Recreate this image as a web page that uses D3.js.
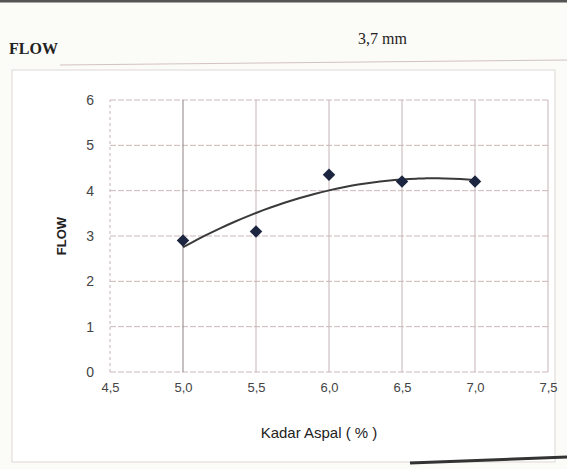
<!DOCTYPE html>
<html>
<head>
<meta charset="utf-8">
<script src="https://cdn.jsdelivr.net/npm/d3@7"></script>
<style>
  body { margin: 0; background: #fbfbf7; }
  svg { display: block; }
</style>
</head>
<body>
<div id="grafik"></div>
<script>
// data
const kadarAspal = [5.0, 5.5, 6.0, 6.5, 7.0];
const nilaiFlow = [2.9, 3.1, 4.35, 4.2, 4.2];
const tickX = [4.5, 5.0, 5.5, 6.0, 6.5, 7.0, 7.5];
const tickY = [0, 1, 2, 3, 4, 5, 6];

const width = 567, height = 469;
const margin = { left: 110, right: 19, top: 100, bottom: 97 };

const svg = d3.select("#grafik")
  .append("svg")
  .attr("width", width)
  .attr("height", height);

const x = d3.scaleLinear().domain([4.5, 7.5]).range([margin.left, width - margin.right]);
const y = d3.scaleLinear().domain([0, 6]).range([height - margin.bottom, margin.top]);

// header
svg.append("line")
  .attr("x1", 0).attr("x2", width).attr("y1", 1).attr("y2", 1)
  .attr("stroke", "#555").attr("stroke-width", 3);

svg.append("text")
  .attr("x", 9).attr("y", 54)
  .attr("font-family", "Liberation Serif, serif")
  .attr("font-weight", "bold")
  .attr("font-size", 16)
  .attr("fill", "#222")
  .text("FLOW");

svg.append("text")
  .attr("x", 358).attr("y", 44)
  .attr("font-family", "Liberation Serif, serif")
  .attr("font-size", 16)
  .attr("fill", "#222")
  .text("3,7 mm");

svg.append("line")
  .attr("x1", 60).attr("x2", width).attr("y1", 65).attr("y2", 60)
  .attr("stroke", "#d3c2c2").attr("stroke-width", 1);

// bingkai grafik
svg.append("rect")
  .attr("x", 12).attr("y", 70)
  .attr("width", 543).attr("height", 392)
  .attr("fill", "#fff")
  .attr("stroke", "#ddd7d7");

// grid horizontal
svg.append("g")
  .selectAll("line")
  .data(tickY)
  .enter()
  .append("line")
  .attr("x1", x(4.5))
  .attr("x2", x(7.5))
  .attr("y1", d => y(d))
  .attr("y2", d => y(d))
  .attr("stroke", "#cdb7b9")
  .attr("stroke-dasharray", "6,2")
  .attr("stroke-width", 1);

// grid vertikal
svg.append("g")
  .selectAll("line")
  .data(tickX)
  .enter()
  .append("line")
  .attr("x1", d => x(d))
  .attr("x2", d => x(d))
  .attr("y1", y(0))
  .attr("y2", y(6))
  .attr("stroke", d => d === 5.0 ? "#8d8283" : "#c4b3b5")
  .attr("stroke-dasharray", d => d === 4.5 ? "3,3" : null)
  .attr("stroke-width", 1);

// sumbu
const sumbuX = d3.axisBottom(x).tickValues(tickX).tickSize(0).tickPadding(11)
  .tickFormat(d => d3.format(".1f")(d).replace(".", ","));
svg.append("g")
  .attr("transform", `translate(0,${y(0)})`)
  .call(sumbuX)
  .call(g => g.select(".domain").remove())
  .selectAll("text")
  .attr("font-family", "Liberation Sans, Arial, sans-serif")
  .attr("font-size", 13)
  .attr("fill", "#444");

const sumbuY = d3.axisLeft(y).tickValues(tickY).tickSize(0).tickPadding(16)
  .tickFormat(d3.format("d"));
svg.append("g")
  .attr("transform", `translate(${x(4.5)},0)`)
  .call(sumbuY)
  .call(g => g.select(".domain").remove())
  .selectAll("text")
  .attr("font-family", "Liberation Sans, Arial, sans-serif")
  .attr("font-size", 14)
  .attr("fill", "#444");

svg.append("text")
  .attr("x", (x(4.5) + x(7.5)) / 2 - 10)
  .attr("y", 438)
  .attr("text-anchor", "middle")
  .attr("font-family", "Liberation Sans, Arial, sans-serif")
  .attr("font-size", 15)
  .attr("fill", "#222")
  .text("Kadar Aspal ( % )");

svg.append("text")
  .attr("transform", `translate(66,${y(3)}) rotate(-90)`)
  .attr("text-anchor", "middle")
  .attr("font-family", "Liberation Sans, Arial, sans-serif")
  .attr("font-weight", "bold")
  .attr("font-size", 13)
  .attr("fill", "#222")
  .text("FLOW");

// garis trend polinomial orde 2 (kuadrat terkecil)
function fitKuadrat(xs, ys) {
  const n = xs.length;
  let s = [0, 0, 0, 0, 0], t = [0, 0, 0];
  for (let i = 0; i < n; i++) {
    for (let k = 0; k < 5; k++) s[k] += Math.pow(xs[i], k);
    for (let k = 0; k < 3; k++) t[k] += ys[i] * Math.pow(xs[i], k);
  }
  const A = [[s[0], s[1], s[2], t[0]], [s[1], s[2], s[3], t[1]], [s[2], s[3], s[4], t[2]]];
  for (let i = 0; i < 3; i++) {
    for (let j = i + 1; j < 3; j++) {
      const f = A[j][i] / A[i][i];
      for (let k = i; k < 4; k++) A[j][k] -= f * A[i][k];
    }
  }
  const c = [0, 0, 0];
  for (let i = 2; i >= 0; i--) {
    let v = A[i][3];
    for (let k = i + 1; k < 3; k++) v -= A[i][k] * c[k];
    c[i] = v / A[i][i];
  }
  return v => c[0] + c[1] * v + c[2] * v * v;
}

const trend = fitKuadrat(kadarAspal, nilaiFlow);
const xTrend = d3.range(5.0, 7.0001, 0.05);

svg.append("path")
  .datum(xTrend)
  .attr("fill", "none")
  .attr("stroke", "#3a3a3a")
  .attr("stroke-width", 2)
  .attr("d", d3.line().x(d => x(d)).y(d => y(trend(d))).curve(d3.curveBasis));

// titik data
svg.append("g")
  .selectAll("path")
  .data(kadarAspal)
  .enter()
  .append("path")
  .attr("transform", (d, i) => `translate(${x(d)},${y(nilaiFlow[i])})`)
  .attr("d", d3.symbol().type(d3.symbolDiamond2).size(100))
  .attr("fill", "#1d2640");

// tepi halaman kanan bawah
svg.append("line")
  .attr("x1", 410).attr("x2", width).attr("y1", 463).attr("y2", 457)
  .attr("stroke", "#333").attr("stroke-width", 3);
</script>
</body>
</html>
